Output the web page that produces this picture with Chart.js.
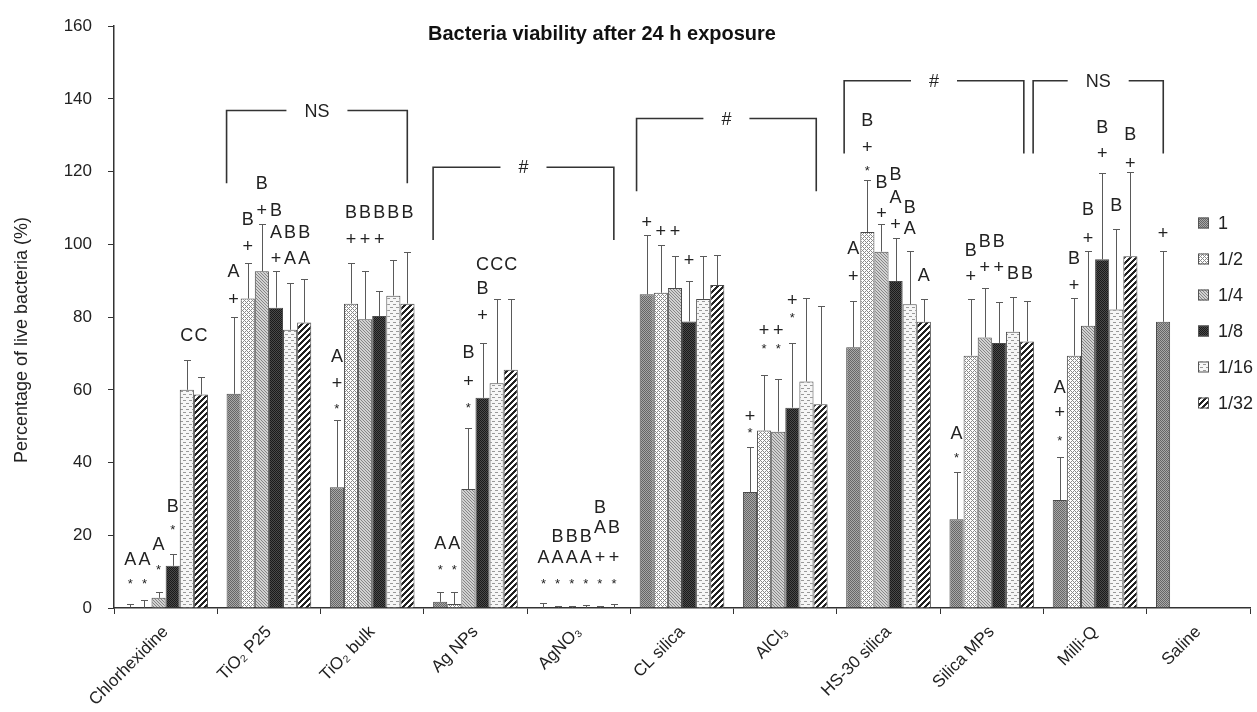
<!DOCTYPE html>
<html>
<head>
<meta charset="utf-8">
<title>Bacteria viability after 24 h exposure</title>
<script src="https://cdn.jsdelivr.net/npm/chart.js@4.4.1/dist/chart.umd.min.js"></script>
<style>
  html, body { margin: 0; padding: 0; background: #fff; }
  #wrap { width: 1257px; height: 712px; }
</style>
</head>
<body>
<div id="wrap"><canvas id="myChart" width="1257" height="712"></canvas></div>
<script>
const categories = ['Chlorhexidine', 'TiO₂ P25', 'TiO₂ bulk', 'Ag NPs', 'AgNO₃', 'CL silica', 'AlCl₃', 'HS-30 silica', 'Silica MPs', 'Milli-Q', 'Saline'];
const dilutions = ['1', '1/2', '1/4', '1/8', '1/16', '1/32'];

// mean % of live bacteria, one array per dilution
const mean1  = [0.2, 58.9, 33.2, 1.7, 0.1, 86.3, 31.9, 71.7, 24.4, 29.7, 78.7];
const mean2  = [0.1, 85.1, 83.7, 1.1, 0.1, 86.7, 48.8, 103.4, 69.4, 69.4, null];
const mean4  = [2.8, 92.6, 79.4, 32.7, 0.1, 88.0, 48.5, 98.0, 74.4, 77.6, null];
const mean8  = [11.6, 82.6, 80.3, 57.8, 0.1, 78.8, 55.1, 89.9, 72.9, 95.9, null];
const mean16 = [60.0, 76.5, 85.9, 61.8, 0.1, 85.0, 62.3, 83.5, 76.0, 82.1, null];
const mean32 = [58.7, 78.5, 83.7, 65.5, 0.1, 88.8, 56.0, 78.7, 73.3, 96.7, null];

// upper error bars (SD)
const sd1  = [1.0, 21.1, 18.4, 2.6, 1.2, 16.4, 12.3, 12.8, 13.0, 11.8, 19.5];
const sd2  = [2.1, 9.9, 11.1, 3.3, 0.5, 13.1, 15.2, 14.3, 15.7, 15.9, null];
const sd4  = [1.6, 13.1, 13.2, 16.7, 0.4, 8.9, 14.5, 7.7, 13.5, 20.6, null];
const sd8  = [3.3, 10.1, 6.8, 15.0, 0.6, 11.2, 17.9, 11.9, 11.2, 23.7, null];
const sd16 = [8.2, 12.9, 9.9, 23.1, 0.4, 11.8, 23.0, 14.8, 9.5, 22.1, null];
const sd32 = [4.7, 12.0, 14.1, 19.5, 0.9, 8.3, 27.0, 6.4, 11.1, 23.1, null];

// significance marks: [category, level (%), one char per dilution bar]
const markRows = [
  [0, 7.6, '**    '], [0, 13.6, 'AA    '], [0, 11.5, '  *   '], [0, 17.7, '  A   '],
  [0, 22.4, '   *  '], [0, 28.1, '   B  '], [0, 75.0, '    CC'],
  [1, 85.1, '+     '], [1, 92.6, 'A     '], [1, 99.6, ' +    '], [1, 106.9, ' B    '],
  [1, 96.2, '   +AA'], [1, 103.3, '   ABB'], [1, 109.4, '  +B  '], [1, 116.9, '  B   '],
  [2, 55.8, '*     '], [2, 62.0, '+     '], [2, 69.4, 'A     '], [2, 101.5, ' +++  '], [2, 108.9, ' BBBBB'],
  [3, 11.3, '**    '], [3, 17.8, 'AA    '], [3, 56.0, '  *   '], [3, 62.3, '  +   '], [3, 70.3, '  B   '],
  [3, 80.6, '   +  '], [3, 88.0, '   B  '], [3, 94.6, '   CCC'],
  [4, 7.6, '******'], [4, 14.0, 'AAAA++'], [4, 19.8, ' BBB  '], [4, 22.2, '    AB'], [4, 27.9, '    B '],
  [5, 106.2, '+     '], [5, 103.7, ' ++   '], [5, 95.7, '   +  '],
  [6, 49.0, '*     '], [6, 52.8, '+     '], [6, 72.3, ' **   '], [6, 76.5, ' ++   '], [6, 80.8, '   *  '], [6, 84.7, '   +  '],
  [7, 91.2, '+     '], [7, 98.9, 'A     '], [7, 121.2, ' *    '], [7, 126.9, ' +    '], [7, 134.1, ' B    '],
  [7, 108.7, '  +   '], [7, 117.1, '  B   '], [7, 105.5, '   +  '], [7, 113.0, '   A  '], [7, 119.4, '   B  '],
  [7, 104.4, '    A '], [7, 110.3, '    B '], [7, 91.7, '     A'],
  [8, 42.2, '*     '], [8, 48.1, 'A     '], [8, 91.2, ' +    '], [8, 98.5, ' B    '],
  [8, 93.8, '  ++  '], [8, 100.8, '  BB  '], [8, 92.1, '    BB'],
  [9, 46.9, '*     '], [9, 54.0, '+     '], [9, 60.8, 'A     '], [9, 88.9, ' +    '], [9, 96.2, ' B    '],
  [9, 101.7, '  +   '], [9, 109.8, '  B   '], [9, 125.0, '   +  '], [9, 132.3, '   B  '],
  [9, 110.7, '    B '], [9, 122.4, '     +'], [9, 130.3, '     B'],
  [10, 103.0, '+     ']
];

// group comparison brackets (category index units, % level)
const bracketFrom  = [0.59, 2.59, 4.56, 6.57, 8.40];
const bracketTo    = [2.34, 4.34, 6.30, 8.31, 9.66];
const bracketLevel = [136.8, 121.2, 134.6, 145.0, 145.0];
const bracketText  = ['NS', '#', '#', '#', 'NS'];

const FONT = '"Liberation Sans", Arial, Helvetica, sans-serif';
const ctx = document.getElementById('myChart').getContext('2d');

function makePattern(size, paint) {
  const c = document.createElement('canvas');
  c.width = size; c.height = size;
  const g = c.getContext('2d');
  for (let y = 0; y < size; y++) {
    for (let x = 0; x < size; x++) {
      g.fillStyle = paint(x, y);
      g.fillRect(x, y, 1, 1);
    }
  }
  return ctx.createPattern(c, 'repeat');
}

const fills = [
  makePattern(4, (x, y) => (x + y) % 2 ? '#a8a8a8' : '#666666'),
  makePattern(4, (x, y) => ((x + y) % 4 === 0 || (x - y + 4) % 4 === 0) ? '#8a8a8a' : '#ffffff'),
  makePattern(3, (x, y) => (x - y + 3) % 3 === 0 ? '#858585' : '#d2d2d2'),
  makePattern(4, (x, y) => (x + y) % 2 ? '#4a4a4a' : '#1a1a1a'),
  makePattern(6, (x, y) => ((y === 1 && x < 3) || (y === 4 && x >= 3)) ? '#999999' : '#f6f6f6'),
  makePattern(6, (x, y) => (x + y) % 6 < 3 ? '#222222' : '#ffffff')
];

const means = [mean1, mean2, mean4, mean8, mean16, mean32];
const sds = [sd1, sd2, sd4, sd8, sd16, sd32];

const datasets = dilutions.map((d, i) => ({
  label: d,
  data: means[i],
  sd: sds[i],
  backgroundColor: fills[i],
  borderColor: '#4a4a4a',
  borderWidth: 1,
  categoryPercentage: 0.82,
  barPercentage: 1.0
}));

const extras = {
  id: 'extras',
  afterDatasetsDraw(chart) {
    const c = chart.ctx, ys = chart.scales.y, xs = chart.scales.x;
    c.save();

    // error bars (upper only)
    c.strokeStyle = '#5a5a5a';
    c.lineWidth = 1;
    chart.data.datasets.forEach((ds, di) => {
      chart.getDatasetMeta(di).data.forEach((bar, i) => {
        const m = ds.data[i], s = ds.sd[i];
        if (m == null || s == null) return;
        const px = Math.round(bar.x) + 0.5;
        const top = Math.round(ys.getPixelForValue(m + s)) + 0.5;
        c.beginPath();
        c.moveTo(px, bar.y);
        c.lineTo(px, top);
        c.moveTo(px - 3.5, top);
        c.lineTo(px + 3.5, top);
        c.stroke();
      });
    });

    // significance letters
    c.fillStyle = '#222';
    c.textAlign = 'center';
    c.textBaseline = 'middle';
    markRows.forEach(([ci, level, s]) => {
      const py = ys.getPixelForValue(level);
      for (let k = 0; k < s.length; k++) {
        const ch = s[k];
        if (ch === ' ') continue;
        const bar = chart.getDatasetMeta(k).data[ci];
        if (ch === '*') {
          c.font = '13px ' + FONT;
          c.fillText('*', bar.x, py + 4);
        } else {
          c.font = '18px ' + FONT;
          c.fillText(ch, bar.x, py + 1);
        }
      }
    });

    // brackets
    c.strokeStyle = '#333';
    c.lineWidth = 1.6;
    c.font = '18px ' + FONT;
    bracketText.forEach((t, i) => {
      const x0 = xs.getPixelForValue(bracketFrom[i]);
      const x1 = xs.getPixelForValue(bracketTo[i]);
      const yTop = ys.getPixelForValue(bracketLevel[i]);
      const yBot = ys.getPixelForValue(bracketLevel[i] - 20);
      const mid = (x0 + x1) / 2;
      const half = c.measureText(t).width / 2 + 18;
      c.beginPath();
      c.moveTo(x0, yBot); c.lineTo(x0, yTop); c.lineTo(mid - half, yTop);
      c.moveTo(mid + half, yTop); c.lineTo(x1, yTop); c.lineTo(x1, yBot);
      c.stroke();
      c.fillText(t, mid, yTop + 1);
    });
    c.restore();
  },
  afterDraw(chart) {
    const c = chart.ctx, area = chart.chartArea;
    c.save();
    // title
    c.fillStyle = '#111';
    c.font = 'bold 20px ' + FONT;
    c.textAlign = 'left';
    c.textBaseline = 'middle';
    c.fillText('Bacteria viability after 24 h exposure', 428, 34);

    // y axis title
    c.font = '18px ' + FONT;
    c.fillStyle = '#222';
    c.translate(22, 340);
    c.rotate(-Math.PI / 2);
    c.textAlign = 'center';
    c.fillText('Percentage of live bacteria (%)', 0, 0);
    c.restore();

    // legend
    c.save();
    c.font = '18px ' + FONT;
    c.textBaseline = 'middle';
    c.textAlign = 'left';
    chart.data.datasets.forEach((ds, i) => {
      const ly = 223 + i * 36;
      const lx = area.right - 52;
      c.fillStyle = ds.backgroundColor;
      c.fillRect(lx, ly - 5.5, 11, 11);
      c.strokeStyle = '#555';
      c.lineWidth = 1;
      c.strokeRect(lx + 0.5, ly - 5, 10, 10);
      c.fillStyle = '#222';
      c.fillText(ds.label, lx + 20, ly + 1);
    });
    c.restore();
  }
};

new Chart(ctx, {
  type: 'bar',
  data: { labels: categories, datasets },
  options: {
    responsive: false,
    animation: false,
    layout: { padding: { top: 21, right: 7, left: 0, bottom: 0 } },
    plugins: {
      legend: { display: false },
      tooltip: { enabled: false },
      title: { display: false }
    },
    scales: {
      x: {
        afterFit: s => { s.height = 104; },
        grid: { drawOnChartArea: false, drawTicks: true, tickLength: 6, color: '#333', offset: true },
        border: { display: true, color: '#333', width: 1.5 },
        ticks: {
          autoSkip: false,
          maxRotation: 45,
          minRotation: 45,
          padding: 8,
          color: '#222',
          font: { family: FONT, size: 17 }
        }
      },
      y: {
        min: 0,
        max: 160,
        afterFit: s => { s.width = 114; },
        grid: { drawOnChartArea: false, drawTicks: true, tickLength: 6, color: '#333' },
        border: { display: true, color: '#333', width: 1.5 },
        ticks: { stepSize: 20, padding: 16, color: '#222', font: { family: FONT, size: 17 } }
      }
    }
  },
  plugins: [extras]
});
</script>
</body>
</html>
